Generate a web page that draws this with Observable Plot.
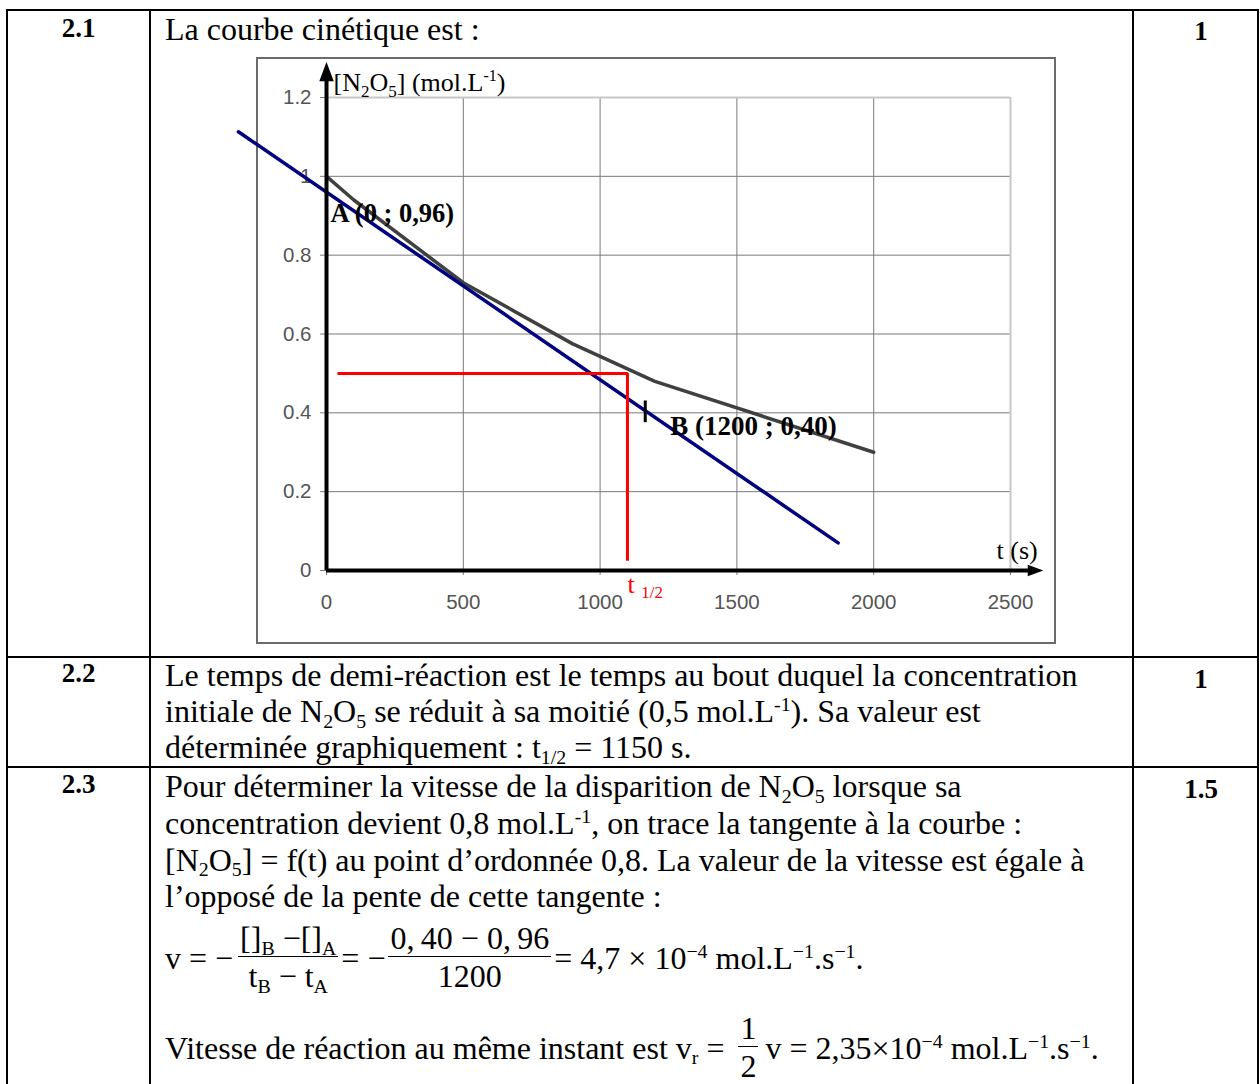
<!DOCTYPE html>
<html><head><meta charset="utf-8">
<script src="https://cdn.jsdelivr.net/npm/d3@7"></script>
<script src="https://cdn.jsdelivr.net/npm/@observablehq/plot@0.6"></script>
<style>
body{margin:0;background:#fff;}
#page{position:relative;width:1260px;height:1084px;overflow:hidden;font-family:"Liberation Serif","Times New Roman",serif;color:#000;background:#fff;}
.ln{position:absolute;background:#000;}
.t{position:absolute;font-size:32px;line-height:36px;white-space:nowrap;}
.num{position:absolute;font-size:27px;line-height:36px;font-weight:bold;text-align:center;}
sub{font-size:0.62em;vertical-align:baseline;position:relative;top:0.28em;line-height:0;}
sup{font-size:0.62em;vertical-align:baseline;position:relative;top:-0.55em;line-height:0;}
.fl{position:absolute;display:flex;align-items:center;font-size:32px;line-height:36px;white-space:nowrap;}
.fr{display:inline-flex;flex-direction:column;align-items:center;margin:0 3px;}
.fr .n{padding:0 2px;}
.fr .d{border-top:1.5px solid #000;padding:0 2px;line-height:38px;align-self:stretch;text-align:center;}
#chartbox{position:absolute;left:256px;top:57px;width:796px;height:583px;border:2px solid #6b6b6b;background:#fff;}
#chartbox svg{display:block;}
</style>
</head><body>
<div id="page">
  <div class="ln" style="left:6px;top:9px;width:1253px;height:2px"></div>
  <div class="ln" style="left:6px;top:9px;width:2px;height:1080px"></div>
  <div class="ln" style="left:149px;top:9px;width:2px;height:1080px"></div>
  <div class="ln" style="left:1132px;top:9px;width:2px;height:1080px"></div>
  <div class="ln" style="left:1257px;top:9px;width:2px;height:1080px"></div>
  <div class="ln" style="left:6px;top:656px;width:1253px;height:2px"></div>
  <div class="ln" style="left:6px;top:766px;width:1253px;height:2px"></div>

  <div class="num" style="left:8px;width:141px;top:10px">2.1</div>
  <div class="num" style="left:1141px;width:120px;top:13px">1</div>
  <div class="t" style="left:165px;top:11.2px">La courbe cinétique est :</div>

  <div id="chartbox"></div>

  <div class="num" style="left:8px;width:141px;top:655px">2.2</div>
  <div class="num" style="left:1141px;width:120px;top:661px">1</div>
  <div class="t" style="left:165px;top:657.2px">Le temps de demi-réaction est le temps au bout duquel la concentration<br>initiale de N<sub>2</sub>O<sub>5</sub> se réduit à sa moitié (0,5 mol.L<sup>-1</sup>). Sa valeur est<br>déterminée graphiquement : t<sub>1/2</sub> = 1150 s.</div>

  <div class="num" style="left:8px;width:141px;top:766px">2.3</div>
  <div class="num" style="left:1141px;width:120px;top:771px">1.5</div>
  <div class="t" style="left:165px;top:768.2px;line-height:36.7px">Pour déterminer la vitesse de la disparition de N<sub>2</sub>O<sub>5</sub> lorsque sa<br>concentration devient 0,8 mol.L<sup>-1</sup>, on trace la tangente à la courbe :<br>[N<sub>2</sub>O<sub>5</sub>] = f(t) au point d’ordonnée 0,8. La valeur de la vitesse est égale à<br>l’opposé de la pente de cette tangente :</div>

  <div class="fl" style="left:165px;top:920px">
    <span>v =&nbsp;−</span>
    <span class="fr" style="margin-left:5px"><span class="n">[]<sub>B</sub> −[]<sub>A</sub></span><span class="d">t<sub>B</sub> − t<sub>A</sub></span></span>
    <span>= −</span>
    <span class="fr"><span class="n">0,&thinsp;40 − 0,&thinsp;96</span><span class="d">1200</span></span>
    <span>= 4,7 × 10<sup>−4</sup> mol.L<sup>−1</sup>.s<sup>−1</sup>.</span>
  </div>

  <div class="fl" style="left:165px;top:1010px">
    <span>Vitesse de réaction au même instant est v<sub>r</sub> =&nbsp;</span>
    <span class="fr" style="margin:0 7px 0 6px"><span class="n">1</span><span class="d">2</span></span>
    <span>v = 2,35×10<sup>−4</sup> mol.L<sup>−1</sup>.s<sup>−1</sup>.</span>
  </div>
</div>
<script>
// ---- data ----
const times = [0, 100, 500, 900, 1200, 2000];
const conc = [1.00, 0.94, 0.73, 0.575, 0.48, 0.30];
const tangentT = [-322, 1870];
const tangentC = [1.113, 0.07];
const halfPathT = [40, 1100, 1100];
const halfPathC = [0.5, 0.5, 0.025];
const pointBT = 1165, pointBC = 0.40;
const pointAT = 0, pointAC = 0.96;
const xTicks = [0, 500, 1000, 1500, 2000, 2500];
const yTicks = [0, 0.2, 0.4, 0.6, 0.8, 1, 1.2];
const xGrid = [500, 1000, 1500, 2000];
const yGrid = [0.2, 0.4, 0.6, 0.8, 1];
const xMax = 2500, yMax = 1.2;
const yArrowTip = 1.29, xArrowTip = 2620;
const labelY = "[N2O5] (mol.L-1)";
const labelX = "t (s)";
const labelHalf = "t 1/2";
const labelA = "A (0 ; 0,96)";
const labelB = "B (1200 ; 0,40)";

const curve = times.map((t, i) => ({t, c: conc[i]}));
const tangent = tangentT.map((t, i) => ({t, c: tangentC[i]}));
const half = halfPathT.map((t, i) => ({t, c: halfPathC[i]}));

const arrowHead = {
  draw(ctx, size) {
    const r = Math.sqrt(size / Math.PI);
    const h = 2.4 * r, w = 1.8 * r;
    ctx.moveTo(0, 0);
    ctx.lineTo(w / 2, h);
    ctx.lineTo(-w / 2, h);
    ctx.closePath();
  }
};

const serif = "Liberation Serif, Times New Roman, serif";
const chart = Plot.plot({
  width: 796, height: 583,
  marginLeft: 68, marginRight: 44, marginTop: 38, marginBottom: 72,
  x: {domain: [0, xMax]},
  y: {domain: [0, yMax]},
  style: {background: "white", fontFamily: "Liberation Sans, Arial, sans-serif", fontSize: "20.5px", color: "#555", overflow: "visible"},
  marks: [
    Plot.gridX(xGrid, {stroke: "#7a7a7a", strokeOpacity: 1, strokeWidth: 1}),
    Plot.gridY(yGrid, {stroke: "#7a7a7a", strokeOpacity: 1, strokeWidth: 1}),
    Plot.ruleX([xMax], {stroke: "#c8c8c8", strokeWidth: 2}),
    Plot.ruleY([yMax], {stroke: "#c8c8c8", strokeWidth: 2}),
    Plot.axisX(xTicks, {tickSize: 5, tickPadding: 19, stroke: "#7a7a7a", tickFormat: d => String(d), label: null}),
    Plot.axisY(yTicks, {tickSize: 6, tickPadding: 9, stroke: "#7a7a7a", tickFormat: d => String(d), label: null}),
    Plot.line(curve, {x: "t", y: "c", stroke: "#404040", strokeWidth: 3.5}),
    Plot.line(tangent, {x: "t", y: "c", stroke: "#000080", strokeWidth: 3.5}),
    Plot.line(half, {x: "t", y: "c", stroke: "#ff0000", strokeWidth: 3, strokeLinejoin: "miter", strokeLinecap: "butt"}),
    Plot.ruleX([0], {y1: 0, y2: yArrowTip - 0.04, stroke: "black", strokeWidth: 4}),
    Plot.ruleY([0], {x1: 0, x2: xArrowTip - 40, stroke: "black", strokeWidth: 4}),
    Plot.dot([{t: 0, c: yArrowTip}], {x: "t", y: "c", symbol: arrowHead, r: 8, fill: "black", stroke: "none"}),
    Plot.dot([{t: xArrowTip, c: 0}], {x: "t", y: "c", symbol: arrowHead, r: 6.5, fill: "black", stroke: "none", rotate: 90}),
    Plot.ruleX([pointBT], {y1: pointBC - 0.025, y2: pointBC + 0.03, stroke: "black", strokeWidth: 3}),
    Plot.text([labelY], {x: 0, y: yMax, text: d => d, textAnchor: "start", lineAnchor: "bottom", dx: 7, dy: -7, fontFamily: serif, fontSize: 26, fill: "black"}),
    Plot.text([labelA], {x: pointAT, y: pointAC, text: d => d, textAnchor: "start", lineAnchor: "bottom", dx: 4, dy: 30, fontFamily: serif, fontSize: 26.5, fontWeight: "bold", fill: "black"}),
    Plot.text([labelB], {x: pointBT, y: pointBC, text: d => d, textAnchor: "start", lineAnchor: "bottom", dx: 25, dy: 22, fontFamily: serif, fontSize: 27, fontWeight: "bold", fill: "black"}),
    Plot.text([labelX], {x: xMax, y: 0, text: d => d, textAnchor: "start", lineAnchor: "bottom", dx: -14, dy: -12, fontFamily: serif, fontSize: 26, fill: "black"}),
    Plot.text([labelHalf], {x: halfPathT[1], y: 0, text: d => d, textAnchor: "start", lineAnchor: "bottom", dx: 0, dy: 22, fontFamily: serif, fontSize: 26, fill: "#ff0000"})
  ]
});
document.getElementById("chartbox").appendChild(chart);

// rich text (sub/superscripts) inside the SVG labels
function rich(svg, match, parts) {
  svg.querySelectorAll("text").forEach(el => {
    if (el.textContent !== match) return;
    const target = el.querySelector("tspan") || el;
    target.textContent = "";
    let shift = 0;
    parts.forEach(p => {
      const ts = document.createElementNS("http://www.w3.org/2000/svg", "tspan");
      const want = p.dy || 0;
      ts.setAttribute("dy", want - shift);
      shift = want;
      if (p.size) ts.setAttribute("font-size", p.size);
      ts.textContent = p.s;
      target.appendChild(ts);
    });
  });
}
rich(chart, labelY, [{s: "[N"}, {s: "2", dy: 6, size: 17}, {s: "O"}, {s: "5", dy: 6, size: 17}, {s: "] (mol.L"}, {s: "-1", dy: -10, size: 16}, {s: ")"}]);
rich(chart, labelHalf, [{s: "t "}, {s: "1/2", dy: 5, size: 17}]);
</script>
</body></html>
